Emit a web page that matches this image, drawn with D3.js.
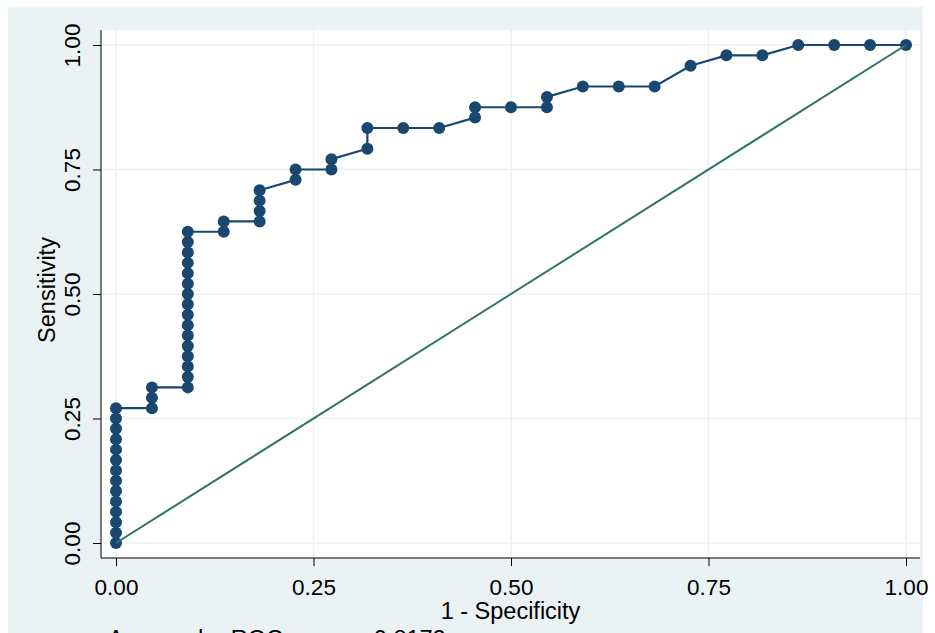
<!DOCTYPE html>
<html>
<head>
<meta charset="utf-8">
<script src="https://cdn.jsdelivr.net/npm/d3@7"></script>
<style>
  body { margin: 0; background: #fff; }
  text { font-family: "Liberation Sans", Arial, Helvetica, sans-serif; fill: #000; }
</style>
</head>
<body>
<div id="chart"></div>
<script>
// 1 - specificity for each point of the curve
const fpr = [
  0, 0, 0, 0, 0, 0, 0, 0, 0, 0, 0, 0, 0, 0,
  0.0455, 0.0455, 0.0455,
  0.0909, 0.0909, 0.0909, 0.0909, 0.0909, 0.0909, 0.0909, 0.0909,
  0.0909, 0.0909, 0.0909, 0.0909, 0.0909, 0.0909, 0.0909, 0.0909,
  0.1364, 0.1364,
  0.1818, 0.1818, 0.1818, 0.1818,
  0.2273, 0.2273,
  0.2727, 0.2727,
  0.3182, 0.3182,
  0.3636,
  0.4091,
  0.4545, 0.4545,
  0.5,
  0.5455, 0.5455,
  0.5909, 0.6364, 0.6818,
  0.7273,
  0.7727, 0.8182,
  0.8636, 0.9091, 0.9545, 1
]
// sensitivity for each point of the curve
const tpr = [
  0, 0.0208, 0.0417, 0.0625, 0.0833, 0.1042, 0.125, 0.1458, 0.1667, 0.1875, 0.2083, 0.2292, 0.25, 0.2708,
  0.2708, 0.2917, 0.3125,
  0.3125, 0.3333, 0.3542, 0.375, 0.3958, 0.4167, 0.4375, 0.4583,
  0.4792, 0.5, 0.5208, 0.5417, 0.5625, 0.5833, 0.6042, 0.625,
  0.625, 0.6458,
  0.6458, 0.6667, 0.6875, 0.7083,
  0.7292, 0.75,
  0.75, 0.7708,
  0.7917, 0.8333,
  0.8333,
  0.8333,
  0.8542, 0.875,
  0.875,
  0.875, 0.8958,
  0.9167, 0.9167, 0.9167,
  0.9583,
  0.9792, 0.9792,
  1, 1, 1, 1
]
const ticks = [0, 0.25, 0.5, 0.75, 1]
const aucText = "Area under ROC curve = 0.8172"

const W = 935, H = 633
const svg = d3.select("#chart").append("svg")
    .attr("width", W).attr("height", H)

// graph region + plot region
svg.append("rect").attr("x", 8).attr("y", 7).attr("width", 915).attr("height", H - 7)
    .attr("fill", "#eaf2f3")
const plot = {left: 101, right: 920, top: 30, bottom: 558}
svg.append("rect").attr("x", plot.left).attr("y", plot.top)
    .attr("width", plot.right - plot.left).attr("height", plot.bottom - plot.top)
    .attr("fill", "#fff")

const x = d3.scaleLinear().domain([0, 1]).range([116, 906])
const y = d3.scaleLinear().domain([0, 1]).range([543, 45])

// grid
svg.append("g").selectAll("line").data(ticks).join("line")
    .attr("x1", plot.left).attr("x2", plot.right)
    .attr("y1", d => y(d)).attr("y2", d => y(d))
    .attr("stroke", "#eaf2f3").attr("stroke-width", 1.6)
svg.append("g").selectAll("line").data(ticks).join("line")
    .attr("y1", plot.top).attr("y2", plot.bottom)
    .attr("x1", d => x(d)).attr("x2", d => x(d))
    .attr("stroke", "#eaf2f3").attr("stroke-width", 1.6)

// axes
const fmt = d3.format(".2f")
const xAx = svg.append("g").attr("transform", `translate(0,${plot.bottom})`)
    .call(d3.axisBottom(x).tickValues(ticks).tickFormat(fmt).tickSizeInner(8).tickSizeOuter(0).tickPadding(13))
xAx.select(".domain").attr("d", `M${plot.left},0H${plot.right}`).attr("stroke", "#000")
xAx.selectAll("text").attr("font-size", 22.5).attr("font-family", "Liberation Sans, Arial, sans-serif")

const yAx = svg.append("g").attr("transform", `translate(${plot.left},0)`)
    .call(d3.axisLeft(y).tickValues(ticks).tickFormat(fmt).tickSizeInner(8).tickSizeOuter(0))
yAx.select(".domain").attr("d", `M0,${plot.top}V${plot.bottom}`).attr("stroke", "#000")
yAx.selectAll("text")
    .attr("font-size", 22.5).attr("font-family", "Liberation Sans, Arial, sans-serif")
    .attr("x", null).attr("dy", null)
    .attr("text-anchor", "middle")
    .attr("transform", "translate(-21,0) rotate(-90)")

// axis titles
svg.append("text").attr("x", (plot.left + plot.right) / 2).attr("y", 619)
    .attr("text-anchor", "middle").attr("font-size", 23.5).text("1 - Specificity")
svg.append("text")
    .attr("transform", `translate(55,${(plot.top + plot.bottom) / 2 - 4}) rotate(-90)`)
    .attr("text-anchor", "middle").attr("font-size", 23.5).text("Sensitivity")
svg.append("text").attr("x", 108).attr("y", 647).attr("font-size", 23.5).text(aucText)

// ROC curve
const pts = fpr.map((f, i) => [f, tpr[i]])
svg.append("path").datum(pts)
    .attr("d", d3.line().x(d => x(d[0])).y(d => y(d[1])))
    .attr("fill", "none").attr("stroke", "#1a476f").attr("stroke-width", 2.2)
svg.append("g").selectAll("circle").data(pts).join("circle")
    .attr("cx", d => x(d[0])).attr("cy", d => y(d[1])).attr("r", 6)
    .attr("fill", "#1a476f")

// reference line
svg.append("path").datum([[0, 0], [1, 1]])
    .attr("d", d3.line().x(d => x(d[0])).y(d => y(d[1])))
    .attr("stroke", "#2e7467").attr("stroke-width", 2)
</script>
</body>
</html>
